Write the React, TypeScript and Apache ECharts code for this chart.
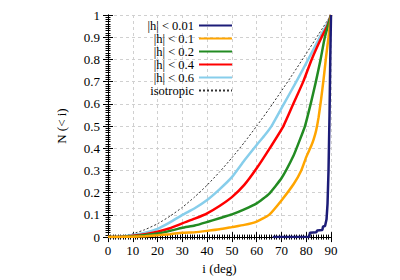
import React, { useEffect, useRef } from "react";
import * as echarts from "echarts";

const xTicks = [0, 10, 20, 30, 40, 50, 60, 70, 80, 90];
const yTicks = [0, 0.1, 0.2, 0.3, 0.4, 0.5, 0.6, 0.7, 0.8, 0.9, 1];

const seriesNames = ["|h| < 0.01", "|h| < 0.1", "|h| < 0.2", "|h| < 0.4", "|h| < 0.6", "isotropic"];
const seriesColors = ["#1c1c78", "#ffa500", "#228b22", "#ff0000", "#87ceeb", "#333333"];

const h001: [number, number][] = [
  [66.5, 0], [81.2, 0], [81.5, 0.02], [84.1, 0.022], [84.4, 0.03], [86.5, 0.032],
  [86.8, 0.048], [87.6, 0.05], [88.2, 0.08], [88.6, 0.15], [89.0, 0.3], [89.4, 0.55],
  [89.7, 0.8], [90, 1],
];
const h01: [number, number][] = [
  [0, 0], [5, 0.001], [10, 0.002], [15, 0.004], [20, 0.008], [25, 0.013], [30, 0.02],
  [35, 0.022], [40, 0.028], [45, 0.035], [50, 0.045], [55, 0.055], [60, 0.07], [65, 0.1],
  [70, 0.165], [75, 0.24], [78, 0.3], [80, 0.36], [82, 0.41], [83, 0.44], [84, 0.48],
  [85, 0.54], [86, 0.62], [87, 0.71], [88, 0.81], [89, 0.9], [90, 1],
];
const h02: [number, number][] = [
  [0, 0], [5, 0.001], [10, 0.004], [15, 0.009], [20, 0.016], [25, 0.028], [30, 0.042],
  [35, 0.052], [40, 0.068], [45, 0.085], [50, 0.102], [55, 0.125], [60, 0.152], [65, 0.195],
  [70, 0.265], [75, 0.37], [77.5, 0.44], [79.5, 0.5], [81.8, 0.6], [83.9, 0.7], [85.8, 0.8],
  [87.5, 0.9], [89, 0.96], [90, 1],
];
const h04: [number, number][] = [
  [0, 0], [5, 0.001], [10, 0.006], [15, 0.013], [20, 0.024], [25, 0.04], [30, 0.062],
  [35, 0.083], [40, 0.107], [45, 0.14], [50, 0.18], [55, 0.235], [60, 0.31], [65, 0.395],
  [70.8, 0.5], [74.8, 0.6], [78.8, 0.7], [82.2, 0.8], [86.2, 0.9], [88.5, 0.95], [90, 1],
];
const h06: [number, number][] = [
  [0, 0], [5, 0.002], [10, 0.009], [15, 0.02], [20, 0.037], [25, 0.066], [30, 0.1],
  [35, 0.13], [40, 0.167], [45, 0.215], [50, 0.27], [55, 0.345], [60, 0.415], [63, 0.455],
  [66, 0.5], [71, 0.6], [76, 0.7], [80.8, 0.8], [85.5, 0.9], [88, 0.95], [90, 1],
];
const isotropic: [number, number][] = [
  [0, 0], [5, 0.004], [10, 0.015], [15, 0.034], [20, 0.06], [25, 0.094], [30, 0.134],
  [35, 0.181], [40, 0.234], [45, 0.293], [50, 0.357], [55, 0.426], [60, 0.5], [65, 0.577],
  [70, 0.658], [75, 0.741], [80, 0.826], [85, 0.913], [90, 1],
];

const seriesData = [h001, h01, h02, h04, h06, isotropic];

const FONT = "Liberation Serif";
const FS = 13;

export default function App() {
  const ref = useRef<HTMLDivElement>(null);
  useEffect(() => {
    if (!ref.current) return;
    const chart = echarts.init(ref.current, undefined, { renderer: "svg" });
    const tickStyle = { color: "#000", width: 1 };
    const baseX = {
      type: "value" as const,
      min: xTicks[0],
      max: xTicks[xTicks.length - 1],
      interval: xTicks[1] - xTicks[0],
      axisLine: { show: true, lineStyle: { color: "#000", width: 1 } },
      axisTick: { show: true, inside: true, length: 5, lineStyle: tickStyle },
      minorTick: { show: true, splitNumber: 10, length: 2.5, lineStyle: tickStyle },
    };
    const baseY = {
      type: "value" as const,
      min: yTicks[0],
      max: yTicks[yTicks.length - 1],
      interval: 0.1,
      axisLine: { show: true, lineStyle: { color: "#000", width: 1 } },
      axisTick: { show: true, inside: true, length: 5, lineStyle: tickStyle },
      minorTick: { show: true, splitNumber: 10, length: 2.5, lineStyle: tickStyle },
    };
    const splitLine = { show: true, lineStyle: { color: "#d0d0d0", type: [3, 3] as number[], width: 1 } };
    chart.setOption({
      animation: false,
      textStyle: { fontFamily: FONT },
      grid: { left: 108, right: 69, top: 15, bottom: 42 },
      legend: {
        orient: "vertical",
        align: "right",
        right: 167,
        top: 19,
        padding: 0,
        itemGap: 0,
        itemWidth: 33,
        itemHeight: 10,
        itemStyle: { opacity: 0 },
        textStyle: { fontFamily: FONT, fontSize: 12.5, color: "#000", lineHeight: 13 },
        data: seriesNames,
      },
      xAxis: [
        {
          ...baseX,
          position: "bottom",
          name: "i (deg)",
          nameLocation: "middle",
          nameGap: 23,
          nameTextStyle: { fontFamily: FONT, fontSize: FS, color: "#000" },
          axisLabel: { fontFamily: FONT, fontSize: FS, color: "#000", margin: 7 },
          splitLine,
        },
        {
          ...baseX,
          position: "top",
          axisLabel: { show: false },
          splitLine: { show: false },
        },
      ],
      yAxis: [
        {
          ...baseY,
          position: "left",
          name: "N (< i)",
          nameLocation: "middle",
          nameGap: 40,
          nameTextStyle: { fontFamily: FONT, fontSize: FS, color: "#000" },
          axisLabel: { fontFamily: FONT, fontSize: FS, color: "#000", margin: 8 },
          splitLine,
        },
        {
          ...baseY,
          position: "right",
          axisLabel: { show: false },
          splitLine: { show: false },
        },
      ],
      series: seriesNames.map((name, i) => ({
        name,
        type: "line",
        data: seriesData[i],
        symbol: "none",
        smooth: i === 0 ? false : 0.15,
        z: i === 0 ? 10 : 5 - i,
        lineStyle:
          i === 5
            ? { color: seriesColors[i], width: 1, type: [2, 2] }
            : { color: seriesColors[i], width: 2.5 },
        itemStyle: { color: seriesColors[i] },
      })),
    });
    return () => chart.dispose();
  }, []);
  return (
    <div
      ref={ref}
      style={{ position: "fixed", left: 0, top: 0, width: 400, height: 280, background: "#fff" }}
    />
  );
}
